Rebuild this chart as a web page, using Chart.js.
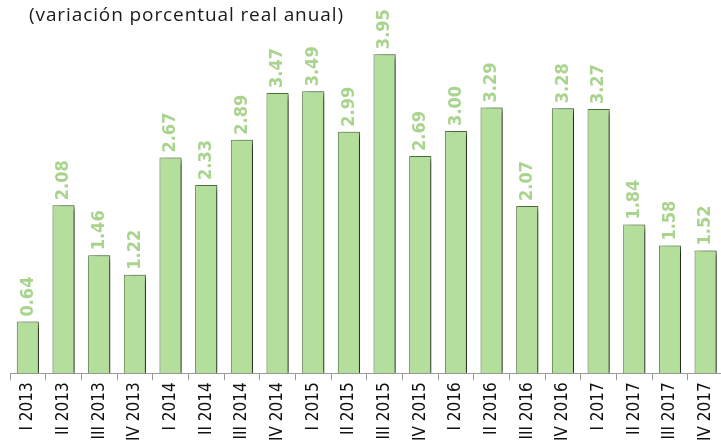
<!DOCTYPE html>
<html>
<head>
<meta charset="utf-8">
<script src="https://cdn.jsdelivr.net/npm/chart.js@4/dist/chart.umd.min.js"></script>
<style>
  html, body { margin: 0; padding: 0; background: #fff; overflow: hidden; }
  #wrap { position: relative; width: 721px; height: 443px; overflow: hidden; }
</style>
</head>
<body>
<div id="wrap"><canvas id="pibChart" width="728" height="443"></canvas></div>
<script>
// trimestres
const quarters = [
  'I 2013', 'II 2013', 'III 2013', 'IV 2013',
  'I 2014', 'II 2014', 'III 2014', 'IV 2014',
  'I 2015', 'II 2015', 'III 2015', 'IV 2015',
  'I 2016', 'II 2016', 'III 2016', 'IV 2016',
  'I 2017', 'II 2017', 'III 2017', 'IV 2017'
];
// variación porcentual real anual
const growth = [
  0.64, 2.08, 1.46, 1.22,
  2.67, 2.33, 2.89, 3.47,
  3.49, 2.99, 3.95, 2.69,
  3.00, 3.29, 2.07, 3.28,
  3.27, 1.84, 1.58, 1.52
];
const chartTitle = '(variación porcentual real anual)';

const barFill = '#b3de9c';
const barEdge = '#567a42';
const labelGreen = '#a9d48e';

// sombra de las barras
const barShadow = {
  id: 'barShadow',
  beforeDatasetDraw(chart) {
    const c = chart.ctx;
    c.save();
    c.shadowColor = 'rgba(0,0,0,0.7)';
    c.shadowOffsetX = 5;
    c.shadowOffsetY = 2;
    c.shadowBlur = 6;
  },
  afterDatasetDraw(chart) {
    chart.ctx.restore();
  }
};

// etiquetas de valor verticales + título
const valueLabels = {
  id: 'valueLabels',
  afterDatasetsDraw(chart) {
    const c = chart.ctx;
    const meta = chart.getDatasetMeta(0);
    c.save();
    c.fillStyle = labelGreen;
    c.font = 'bold 18px "DejaVu Sans Condensed", sans-serif';
    c.textAlign = 'left';
    c.textBaseline = 'middle';
    meta.data.forEach((bar, i) => {
      c.save();
      c.translate(bar.x, bar.y - 5);
      c.rotate(-Math.PI / 2);
      c.fillText(growth[i].toFixed(2), 0, 0);
      c.restore();
    });
    c.fillStyle = '#1a1a1a';
    c.font = '19px "Open Sans", sans-serif';
    c.letterSpacing = '0.9px';
    c.textAlign = 'left';
    c.textBaseline = 'middle';
    c.fillText(chartTitle, 29, 16);
    c.restore();
  }
};

const ctx = document.getElementById('pibChart').getContext('2d');
new Chart(ctx, {
  type: 'bar',
  data: {
    labels: quarters,
    datasets: [{
      data: growth,
      backgroundColor: barFill,
      borderColor: barEdge,
      borderWidth: 1,
      categoryPercentage: 1,
      barPercentage: 0.62
    }]
  },
  options: {
    responsive: false,
    animation: false,
    layout: { padding: { left: 10, right: 0, top: 0, bottom: 0 } },
    plugins: {
      legend: { display: false },
      tooltip: { enabled: false }
    },
    scales: {
      x: {
        offset: true,
        grid: {
          display: true,
          drawOnChartArea: false,
          drawTicks: true,
          tickLength: 7,
          color: '#9a9a9a',
          offset: true
        },
        border: { display: true, color: '#9a9a9a' },
        ticks: {
          minRotation: 90,
          maxRotation: 90,
          autoSkip: false,
          color: '#111',
          padding: 2,
          font: { family: '"DejaVu Sans Condensed", sans-serif', size: 17 }
        }
      },
      y: {
        display: false,
        min: 0,
        max: 4.62
      }
    }
  },
  plugins: [barShadow, valueLabels]
});
</script>
</body>
</html>
